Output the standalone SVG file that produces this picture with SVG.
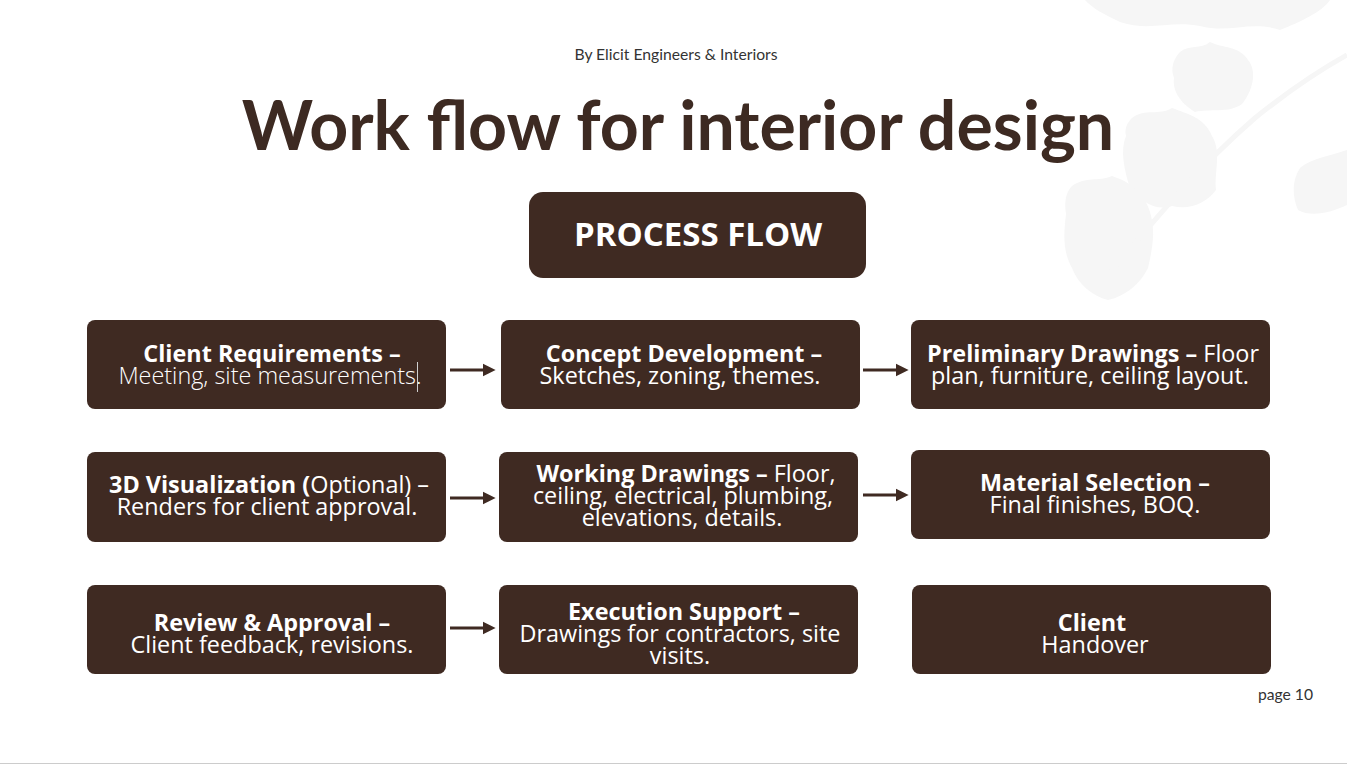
<svg xmlns="http://www.w3.org/2000/svg" width="1347" height="765" viewBox="0 0 1347 765">
<defs>
<style>
.box{fill:#3f2a22;}
.t{font-family:"Open Sans","DejaVu Sans",sans-serif;font-size:23.4px;fill:#ffffff;text-anchor:middle;}
.b{font-weight:700;}
.l{font-weight:300;}
.conn{stroke:#3f2a22;stroke-width:3;fill:none;}
.leaf{fill:#f6f6f6;}
</style>
<marker id="ah" viewBox="0 0 10 10" refX="1" refY="5" markerWidth="4.3" markerHeight="4.7" orient="auto" markerUnits="strokeWidth">
<path d="M0,0 L10,5 L0,10 z" fill="#3f2a22"/>
</marker>
</defs>
<rect x="0" y="0" width="1347" height="765" fill="#ffffff"/>
<g id="leaf-shadow">
<path class="leaf" d="M1085,0 L1330,0 C1322,12 1300,22 1280,30 C1250,20 1230,34 1200,26 C1170,20 1150,32 1120,22 C1105,15 1092,8 1085,0 Z"/>
<path class="leaf" d="M1180,52 C1190,44 1200,50 1210,42 C1222,48 1240,46 1248,60 C1258,72 1252,92 1242,104 C1228,114 1210,108 1195,112 C1182,104 1172,92 1174,78 C1170,68 1174,58 1180,52 Z"/>
<path class="leaf" d="M1132,118 C1145,108 1160,116 1172,108 C1188,114 1205,118 1212,136 C1222,152 1214,172 1216,190 C1205,204 1190,210 1172,206 C1155,212 1140,200 1130,188 C1124,170 1120,150 1126,136 C1124,128 1128,122 1132,118 Z"/>
<path class="leaf" d="M1072,186 C1086,176 1098,182 1112,176 C1130,182 1144,192 1150,212 C1156,232 1152,250 1148,268 C1140,284 1126,296 1108,300 C1092,296 1078,284 1072,268 C1062,250 1064,232 1066,214 C1064,202 1066,192 1072,186 Z"/>
<path class="leaf" d="M1300,168 C1312,158 1330,156 1347,150 L1347,205 C1332,212 1312,218 1298,210 C1292,196 1292,180 1300,168 Z"/>
<path d="M1100,285 C1150,225 1195,170 1255,118 C1290,90 1320,70 1347,55" stroke="#f6f6f6" stroke-width="5" fill="none"/>
</g>
<g id="header">
<text x="676" y="60" font-family="Lato,'Liberation Sans',sans-serif" font-size="15.7" fill="#333333" text-anchor="middle">By Elicit Engineers &amp; Interiors</text>
<text x="678" y="150" font-family="Lato,'Liberation Sans',sans-serif" font-weight="700" font-size="68" fill="#3d2a22" text-anchor="middle">Work flow for interior design</text>
</g>
<g id="process-flow">
<rect x="529" y="192" width="337" height="86" rx="14" class="box"/>
<text x="698" y="246" font-family="'Open Sans','DejaVu Sans',sans-serif" font-weight="700" font-size="33" fill="#ffffff" text-anchor="middle">PROCESS FLOW</text>
</g>
<g id="connectors">
<line class="conn" x1="450" y1="370" x2="484" y2="370" marker-end="url(#ah)"/>
<line class="conn" x1="863" y1="370" x2="897" y2="370" marker-end="url(#ah)"/>
<line class="conn" x1="450" y1="498" x2="484" y2="498" marker-end="url(#ah)"/>
<line class="conn" x1="863" y1="495" x2="897" y2="495" marker-end="url(#ah)"/>
<line class="conn" x1="450" y1="628" x2="484" y2="628" marker-end="url(#ah)"/>
</g>
<g id="n1">
<rect x="87" y="320" width="359" height="89" rx="8" class="box"/>
<text class="t b" x="272" y="362">Client Requirements –</text>
<text class="t l" x="270" y="384">Meeting, site measurements.</text>
<line x1="417.5" y1="362" x2="417.5" y2="392" stroke="#d0d0d0" stroke-width="1"/>
</g>
<g id="n2">
<rect x="501" y="320" width="359" height="89" rx="8" class="box"/>
<text class="t b" x="684" y="362">Concept Development –</text>
<text class="t" x="680" y="384">Sketches, zoning, themes.</text>
</g>
<g id="n3">
<rect x="911" y="320" width="359" height="89" rx="8" class="box"/>
<text class="t" x="1093" y="362"><tspan class="b">Preliminary Drawings –</tspan> Floor</text>
<text class="t" x="1090" y="384">plan, furniture, ceiling layout.</text>
</g>
<g id="n4">
<rect x="87" y="452" width="359" height="90" rx="8" class="box"/>
<text class="t" x="269" y="493"><tspan class="b">3D Visualization (</tspan>Optional) –</text>
<text class="t" x="267" y="515">Renders for client approval.</text>
</g>
<g id="n5">
<rect x="499" y="452" width="359" height="90" rx="8" class="box"/>
<text class="t" x="686" y="482"><tspan class="b">Working Drawings –</tspan> Floor,</text>
<text class="t" x="683" y="504">ceiling, electrical, plumbing,</text>
<text class="t" x="682" y="526">elevations, details.</text>
</g>
<g id="n6">
<rect x="911" y="450" width="359" height="89" rx="8" class="box"/>
<text class="t b" x="1095" y="491">Material Selection –</text>
<text class="t" x="1095" y="513">Final finishes, BOQ.</text>
</g>
<g id="n7">
<rect x="87" y="585" width="359" height="89" rx="8" class="box"/>
<text class="t b" x="272" y="631">Review &amp; Approval –</text>
<text class="t" x="272" y="653">Client feedback, revisions.</text>
</g>
<g id="n8">
<rect x="499" y="585" width="359" height="89" rx="8" class="box"/>
<text class="t b" x="684" y="620">Execution Support –</text>
<text class="t" x="680" y="642">Drawings for contractors, site</text>
<text class="t" x="680" y="664">visits.</text>
</g>
<g id="n9">
<rect x="912" y="585" width="359" height="89" rx="8" class="box"/>
<text class="t b" x="1092" y="631">Client</text>
<text class="t" x="1095" y="653">Handover</text>
</g>
<g id="footer">
<text x="1313" y="700" font-family="Lato,'Liberation Sans',sans-serif" font-size="15.7" fill="#333333" text-anchor="end">page 10</text>
<line x1="0" y1="763.5" x2="1347" y2="763.5" stroke="#cccccc" stroke-width="1"/>
</g>
</svg>
